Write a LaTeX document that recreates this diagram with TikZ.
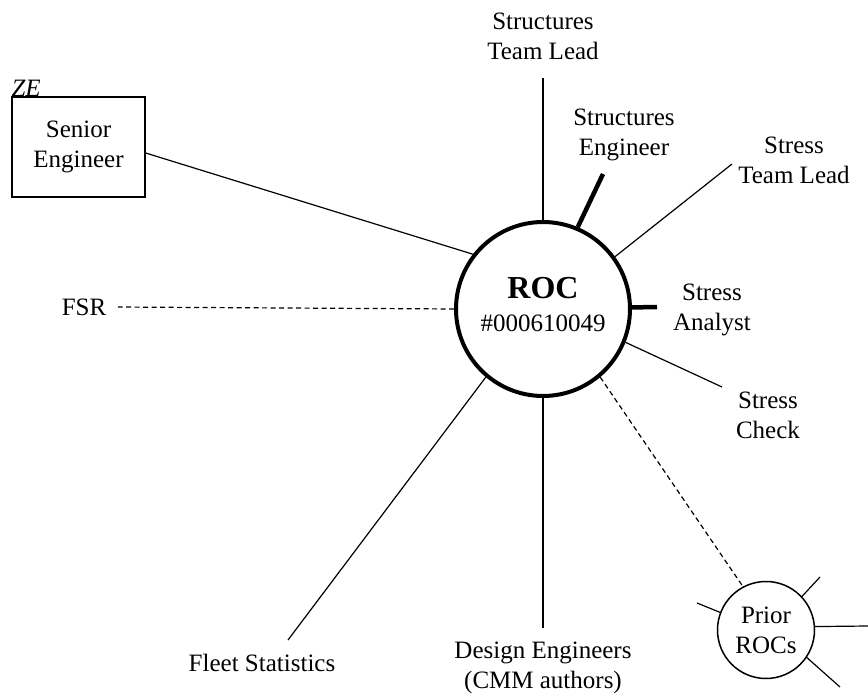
\documentclass[tikz,border=0pt]{standalone}
\usepackage{fontspec}
\setmainfont{Liberation Serif}
\begin{document}
\begin{tikzpicture}[x=1pt,y=-1pt,
  lbl/.style={align=center,inner sep=0pt,font=\fontsize{25}{30}\selectfont},
  spoke/.style={line width=1.2pt},
  heavy/.style={line width=4.5pt},
  dotline/.style={line width=1.2pt,dash pattern=on 5pt off 3.5pt}]
\useasboundingbox (0,0) rectangle (868,698);

% central record
\node[circle,draw,line width=4pt,minimum size=174pt,inner sep=0pt] (roc) at (543,309) {};
\node[inner sep=0pt,font=\fontsize{32}{34}\selectfont\bfseries] (roct) at (543,288) {ROC};
\node[inner sep=0pt,font=\fontsize{25}{30}\selectfont] (rocn) at (543,323) {\#000610049};

% prior records
\node[circle,draw,line width=1.5pt,minimum size=97pt,inner sep=0pt,lbl] (prior) at (766,630) {Prior\\ROCs};

% participants
\node[lbl] (stl) at (543,36) {Structures\\Team Lead};
\node[lbl] (se) at (624,135) {Structures\\Engineer};
\node[lbl] (sstl) at (794,160) {Stress\\Team Lead};
\node[lbl] (sa) at (712,310) {Stress\\Analyst};
\node[lbl] (sc) at (768,415) {Stress\\Check};
\node[lbl] (de) at (543,668) {Design Engineers\\(CMM authors)};
\node[lbl] (fs) at (262,663) {Fleet Statistics};
\node[lbl] (fsr) at (84,307) {FSR};
\node[draw,line width=1.3pt,minimum width=133pt,minimum height=100pt,inner sep=0pt,lbl] (sen) at (78.5,147) {Senior\\Engineer};
\node[anchor=south west,inner sep=0pt,font=\fontsize{25}{30}\selectfont\itshape] (ze) at (sen.north west) {ZE};

% free ends of the spokes
\coordinate (stlE) at (543,78);
\coordinate (seE) at (603,174);
\coordinate (sstlE) at (732,164);
\coordinate (saE) at (657,307);
\coordinate (scE) at (722,387);
\coordinate (deE) at (543,628);
\coordinate (fsE) at (288,640);
\coordinate (fsrE) at (118,307);
\coordinate (p1) at (820,577);
\coordinate (p2) at (868,626);
\coordinate (p3) at (840,687);
\coordinate (p4) at (697,603);

% spokes
\draw[spoke] (roc.90) -- (stlE);
\draw[heavy] (roc.67) -- (seE);
\draw[spoke] (roc.36) -- (sstlE);
\draw[heavy] (roc.1) -- (saE);
\draw[spoke] (roc.-22.5) -- (scE);
\draw[dotline] (roc.-50.5) -- (prior.118);
\draw[spoke] (roc.270) -- (deE);
\draw[spoke] (roc.230) -- (fsE);
\draw[dotline] (roc.180) -- (fsrE);
\draw[spoke] (roc.142.4) -- (sen.east |- 0,153);

% spokes of the prior records
\draw[spoke] (prior.43) -- (p1);
\draw[spoke] (prior.4) -- (p2);
\draw[spoke] (prior.-34) -- (p3);
\draw[spoke] (prior.159) -- (p4);
\end{tikzpicture}
\end{document}
